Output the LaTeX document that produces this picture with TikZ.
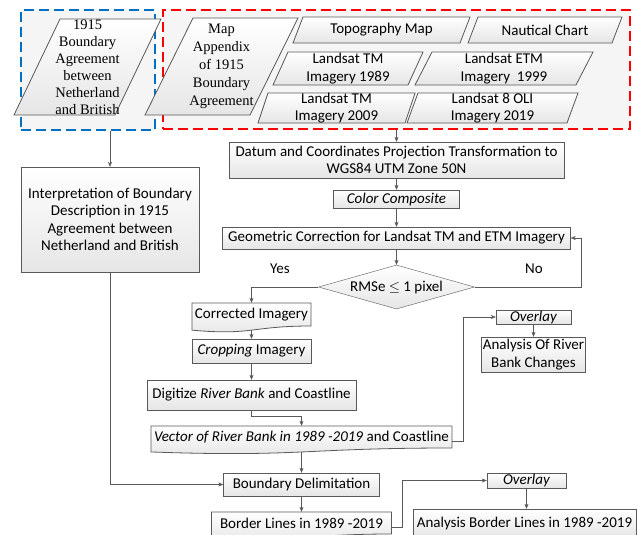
\documentclass[tikz,border=0pt]{standalone}
\usepackage{fontspec}
\setmainfont{Carlito}
\newfontfamily\srcserif{Liberation Serif}
\usetikzlibrary{shapes.geometric,calc,arrows.meta}

\pgfdeclarelayer{bg}
\pgfsetlayers{bg,main}

\definecolor{grpblue}{RGB}{0,112,192}
\definecolor{edgegray}{RGB}{89,89,89}

\tikzset{
  proc/.style={draw=edgegray, top color=white, bottom color=black!10, inner sep=0pt, align=center},
  txtonly/.style={inner sep=0pt, align=center},
  shapefill/.style={draw=edgegray, line width=0.8pt, top color=white, bottom color=black!10},
  grp/.style={line width=2pt, dash pattern=on 10pt off 5pt, fill=black!4, inner sep=0pt},
  flow/.style={draw=edgegray, -{Stealth[length=5pt,width=4pt]}},
}

% parallelogram round a node: name, body width, height, slant
\newcommand\parabox[4]{%
  \begin{pgfonlayer}{bg}
  \draw[shapefill] ($(#1)+({-#2/2+#4/2},{-#3/2})$) -- ($(#1)+({#2/2+#4/2},{-#3/2})$)
    -- ($(#1)+({#2/2-#4/2},{#3/2})$) -- ($(#1)+({-#2/2-#4/2},{#3/2})$) -- cycle;
  \end{pgfonlayer}}

% document shape (wavy bottom) round a node: name, width, height
\newcommand\docbox[3]{%
  \begin{pgfonlayer}{bg}
  \draw[shapefill] ($(#1)+({-#2/2},{-#3/2})$) -- ($(#1)+({#2/2},{-#3/2})$) -- ($(#1)+({#2/2},{#3/2})$)
    .. controls ($(#1)+(0,{#3/2})$) and ($(#1)+(0,{#3/2+0.42*#3})$) .. ($(#1)+({-#2/2},{#3/2+0.18*#3})$) -- cycle;
  \end{pgfonlayer}}

\begin{document}
\fontsize{15}{17.5}\selectfont
\begin{tikzpicture}[x=1pt, y=-1pt, line width=0.8pt]

\useasboundingbox (0,0) rectangle (637,535);
\clip (0,0) rectangle (637,535);

% input groups
\begin{pgfonlayer}{bg}
\fill[white] (0,0) rectangle (637,535);
\node[grp, draw=grpblue, minimum width=134pt, minimum height=120pt] (agreegrp) at (88,70) {};
\node[grp, draw=red, minimum width=467pt, minimum height=119pt] (mapgrp) at (396.5,69.5) {};
\end{pgfonlayer}

\node[txtonly, font=\srcserif\fontsize{14.5}{17}\selectfont] (agree) at (87.5,67)
  {1915\\Boundary\\Agreement\\between\\Netherland\\and British};
\parabox{agree}{101}{96}{46}
\node[txtonly, font=\srcserif\fontsize{14.5}{18}\selectfont] (mapapp) at (221.5,66.5)
  {Map\\Appendix\\of 1915\\Boundary\\Agreement};
\parabox{mapapp}{105}{97}{48}

\node[txtonly] (topo) at (381.5,30) {Topography Map};
\parabox{topo}{167}{26}{10}
\node[txtonly] (naut) at (545,30) {Nautical Chart};
\parabox{naut}{144}{26}{10}
\node[txtonly] (tm89) at (348,68.5) {Landsat TM\\Imagery 1989};
\parabox{tm89}{135}{33}{15}
\node[txtonly] (etm99) at (504,68.5) {Landsat ETM\\Imagery\ \ 1999};
\parabox{etm99}{161}{33}{17}
\node[txtonly] (tm09) at (336.5,108) {Landsat TM\\Imagery 2009};
\parabox{tm09}{147}{30}{10}
\node[txtonly] (oli19) at (492.5,108) {Landsat 8 OLI\\Imagery 2019};
\parabox{oli19}{160}{30}{11}

% processing chain
\node[proc, minimum width=335pt, minimum height=36pt] (datum) at (396.5,160)
  {Datum and Coordinates Projection Transformation to\\WGS84 UTM Zone 50N};
\node[proc, minimum width=126pt, minimum height=18pt, font=\itshape] (color) at (396.5,199) {Color Composite};
\node[proc, minimum width=348pt, minimum height=22pt] (geom) at (396.5,238)
  {Geometric Correction for Landsat TM and ETM Imagery};
\node[proc, shape=diamond, aspect=3.5, minimum width=156pt, minimum height=44pt] (rmse) at (396.5,287)
  {RMSe $\leq$\ 1 pixel};
\node[txtonly] (yes) at (280,269) {Yes};
\node[txtonly] (no) at (534,269) {No};

\node[txtonly, minimum width=119pt, minimum height=23pt] (corr) at (251.5,314.5) {Corrected Imagery};
\docbox{corr}{119}{23}
\node[proc, minimum width=119pt, minimum height=24pt] (crop) at (251.5,351) {\textit{Cropping} Imagery};
\node[proc, minimum width=209pt, minimum height=30pt] (digit) at (251.5,395)
  {Digitize \textit{River Bank} and Coastline};
\node[txtonly, minimum width=301pt, minimum height=22pt] (vector) at (301.5,437)
  {\textit{Vector of River Bank in 1989 -2019} and Coastline};
\docbox{vector}{301}{22}
\node[proc, minimum width=156pt, minimum height=23pt] (bound) at (301.5,484.5) {Boundary Delimitation};
\node[txtonly, minimum width=180pt, minimum height=22pt] (border) at (301.5,523) {Border Lines in 1989 -2019};
\docbox{border}{180}{22}

\node[proc, minimum width=178pt, minimum height=105pt] (interp) at (110,219.5)
  {Interpretation of Boundary\\Description in 1915\\Agreement between\\Netherland and British};

\node[proc, minimum width=75pt, minimum height=14pt, font=\itshape] (ovriver) at (533.5,317) {Overlay};
\node[proc, minimum width=104pt, minimum height=35pt] (riverchg) at (533.5,354.5) {Analysis Of River\\Bank Changes};
\node[proc, minimum width=79pt, minimum height=15pt, font=\itshape] (ovborder) at (526.5,480.5) {Overlay};
\node[proc, minimum width=223pt, minimum height=28pt] (borderchg) at (524.5,523) {Analysis Border Lines in 1989 -2019};

% connectors
\draw[flow] (agreegrp.south -| interp.north) -- (interp.north);
\draw[flow] (mapgrp.south) -- (datum.north);
\draw[flow] (datum) -- (color);
\draw[flow] (color) -- (geom);
\draw[flow] (geom) -- (rmse);
\draw[flow] (rmse.east) -- ++(106,0) |- (geom.east);
\draw[flow] (rmse.west) -| (corr.north);
\draw[flow, shorten <=4pt] (corr.south) -- (crop.north);
\draw[flow] (crop) -- (digit);
\draw[flow] (digit.south) -- ++(0,6) -| (vector.north);
\draw[flow, shorten <=4pt] (vector.south) -- (bound.north);
\draw[flow] (bound) -- (border);
\draw[flow] (interp.south) |- (bound.west);
\draw[flow] ($(vector.east)+(0,4)$) -- ++(11,0) |- (ovriver.west);
\draw[flow] (ovriver) -- (riverchg);
\draw[flow] ($(border.east)+(0,4)$) -- ++(10,0) |- (ovborder.west);
\draw[flow] (ovborder.south) -- (ovborder.south |- borderchg.north);

\end{tikzpicture}
\end{document}
